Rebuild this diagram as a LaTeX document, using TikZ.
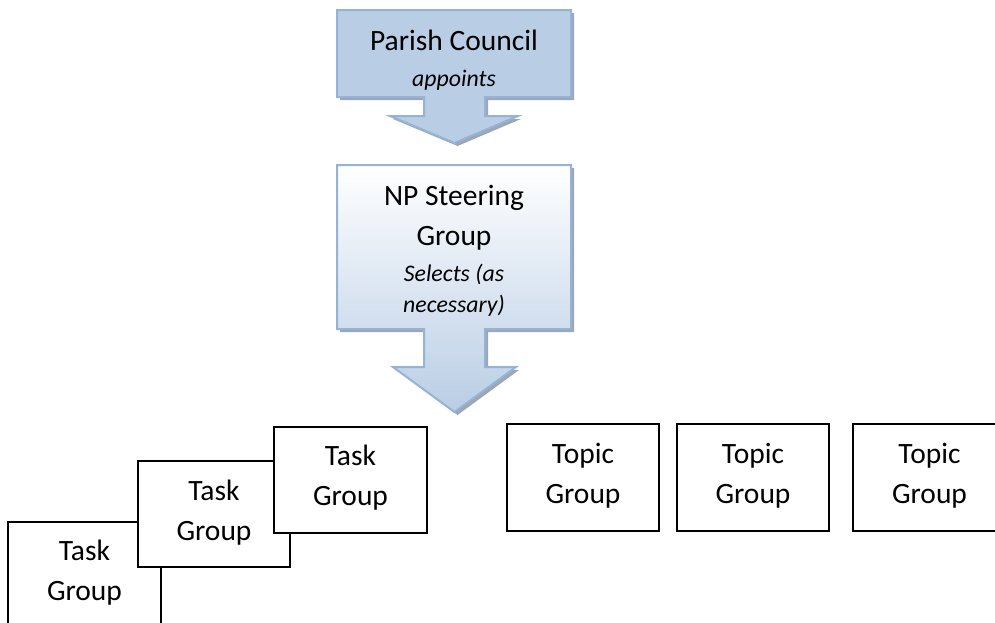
\documentclass[tikz,border=0pt]{standalone}
\usepackage{fontspec}
\setmainfont{Carlito}
\definecolor{cfill}{HTML}{B9CDE5}
\definecolor{cline}{HTML}{95B3D7}
\definecolor{cshadow}{HTML}{9EA6B3}
\begin{document}
\begin{tikzpicture}[x=1pt,y=-1pt,
  grp/.style={draw=black, line width=1.4pt, fill=white, inner sep=0pt},
  maintext/.style={font=\fontsize{29.5}{40}\selectfont, align=center, anchor=base, inner sep=0pt},
  subtext/.style={font=\fontsize{23.8}{31}\selectfont\itshape, align=center, anchor=base, inner sep=0pt},
  callout/.style={draw=cline, line width=2pt, line join=miter},
  cshade/.style={fill=cshadow}]
\useasboundingbox (0,0) rectangle (995,622);
\clip (0,0) rectangle (995,622);

% Parish Council callout
\fill[cshade, shift={(3,3)}] (337,10) -- (571,10) -- (571,97) -- (485,97) -- (485,116) -- (518,116)
  -- (454.5,143) -- (390,116) -- (424,116) -- (424,97) -- (337,97) -- cycle;
\draw[callout, fill=cfill] (337,10) -- (571,10) -- (571,97) -- (485,97) -- (485,116) -- (518,116)
  -- (454.5,143) -- (390,116) -- (424,116) -- (424,97) -- (337,97) -- cycle;
\node[maintext] (pc) at (454,50) {Parish Council};
\node[subtext] (pcsub) at (454,86) {appoints};

% NP Steering Group callout
\fill[cshade, shift={(3,3)}] (337,165) -- (571,165) -- (571,329) -- (485,329) -- (485,367) -- (516,367)
  -- (454.5,412) -- (393,367) -- (424,367) -- (424,329) -- (337,329) -- cycle;
\shade[callout, top color=white, bottom color=cfill] (337,165) -- (571,165) -- (571,329) -- (485,329) -- (485,367) -- (516,367)
  -- (454.5,412) -- (393,367) -- (424,367) -- (424,329) -- (337,329) -- cycle;
\node[maintext] (np) at (454,245) {NP Steering\\Group};
\node[subtext] (npsub) at (454,312) {Selects (as\\necessary)};

% Task groups
\node[grp, minimum width=153pt, minimum height=118pt] (ta) at (84.5,581) {};
\node[maintext] (tat) at (84.5,600) {Task\\Group};
\node[grp, minimum width=152pt, minimum height=106pt] (tb) at (214,514) {};
\node[maintext] (tbt) at (214,540) {Task\\Group};
\node[grp, minimum width=153pt, minimum height=106pt] (tc) at (350.5,480) {};
\node[maintext] (tct) at (350.5,505) {Task\\Group};

% Topic groups
\node[grp, minimum width=152pt, minimum height=107pt] (g1) at (583,477.5) {};
\node[maintext] (g1t) at (583,503) {Topic\\Group};
\node[grp, minimum width=152pt, minimum height=107pt] (g2) at (753,477.5) {};
\node[maintext] (g2t) at (753,503) {Topic\\Group};
\node[grp, minimum width=153pt, minimum height=107pt] (g3) at (929.5,477.5) {};
\node[maintext] (g3t) at (929.5,503) {Topic\\Group};
\end{tikzpicture}
\end{document}
